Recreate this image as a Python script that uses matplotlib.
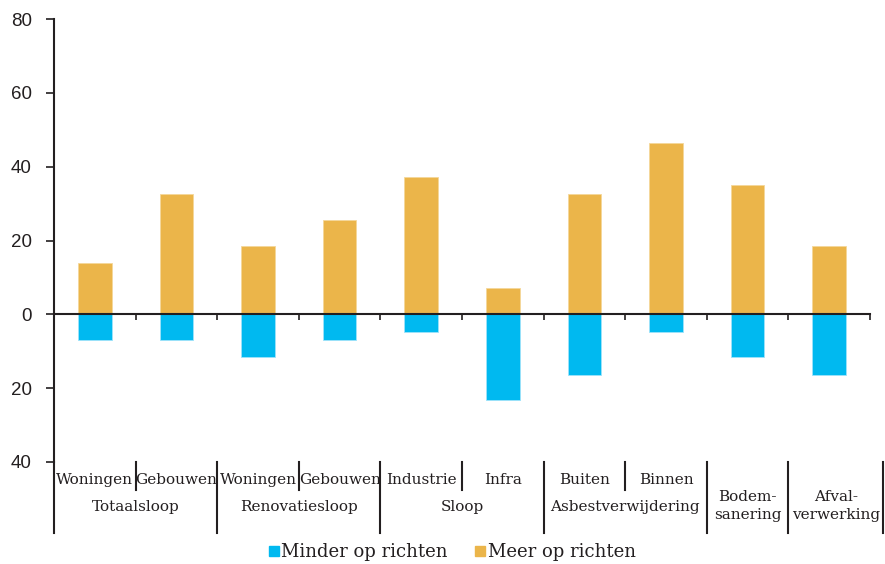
import numpy as np
import matplotlib
matplotlib.use("Agg")
import matplotlib.pyplot as plt
import matplotlib.transforms as mtransforms
from matplotlib.ticker import FuncFormatter
from matplotlib.lines import Line2D

# data (percentages)
sub_labels = ["Woningen", "Gebouwen", "Woningen", "Gebouwen", "Industrie",
              "Infra", "Buiten", "Binnen", "", ""]
groups = ["Totaalsloop", "Renovatiesloop", "Sloop", "Asbestverwijdering",
          "Bodem-\nsanering", "Afval-\nverwerking"]
group_spans = [(0, 2), (2, 4), (4, 6), (6, 8), (8, 9), (9, 10)]
meer = [14.0, 32.6, 18.6, 25.6, 37.2, 7.0, 32.6, 46.5, 34.9, 18.6]
minder = [-7.0, -7.0, -11.6, -7.0, -4.7, -23.3, -16.3, -4.7, -11.6, -16.3]

blue = "#00B9F0"
orange = "#EBB54A"
serif = "DejaVu Serif"

fig = plt.figure(figsize=(8.85, 5.64), dpi=100)
ax = fig.add_axes([54/885, 1-462/564, (870-54)/885, (462-19)/564])

x = np.arange(len(meer)) + 0.5
ax.bar(x, minder, width=0.41, color=blue, edgecolor="#9fe3fa", linewidth=0.6, zorder=2)
ax.bar(x, meer, width=0.41, color=orange, edgecolor="#f4d79a", linewidth=0.6, zorder=2)

ax.set_xlim(0, 10)
ax.set_ylim(-40, 80)
ax.set_yticks(np.arange(-40, 81, 20))
ax.yaxis.set_major_formatter(FuncFormatter(lambda v, p: f"{abs(v):.0f}"))
for lab in ax.get_yticklabels():
    lab.set_fontfamily("Liberation Sans")
ax.tick_params(axis="y", direction="out", length=6, width=1.2, pad=10,
               labelsize=13.5, colors="#231f20")
ax.set_xticks(np.arange(0, 11))
ax.set_xticklabels([])
ax.tick_params(axis="x", direction="out", length=4, width=1.2, colors="#231f20")

ax.spines["top"].set_visible(False)
ax.spines["right"].set_visible(False)
ax.spines["bottom"].set_position(("data", 0))
ax.spines["bottom"].set_linewidth(1.5)
ax.spines["bottom"].set_zorder(3)
ax.spines["left"].set_linewidth(1.5)
for s in ["bottom", "left"]:
    ax.spines[s].set_color("#231f20")

# category labels below the plot area
trans = mtransforms.blended_transform_factory(ax.transData, ax.transAxes)
h = 443.0
def fy(pix):
    return -(pix - 462) / h

for i, lab in enumerate(sub_labels):
    if lab:
        ax.text(i + 0.5, fy(480), lab, transform=trans, ha="center", va="center",
                fontsize=11, family=serif, color="#231f20")

for (a, b), g in zip(group_spans, groups):
    right = b + 0.16 if b == 10 else b
    yy = fy(507) if "\n" not in g else fy(506)
    ax.text((a + right) / 2, yy, g, transform=trans, ha="center", va="center",
            fontsize=11, family=serif, color="#231f20", linespacing=1.3)

# separators
for xs in [1, 3, 5, 7]:
    ax.add_line(Line2D([xs, xs], [0, fy(490)], transform=trans, color="#231f20",
                       lw=1.5, clip_on=False))
for xs in [0, 2, 4, 6, 8, 9, 10.16]:
    ax.add_line(Line2D([xs, xs], [0, fy(533)], transform=trans, color="#231f20",
                       lw=1.5, clip_on=False))

handles = [Line2D([], [], marker="s", ls="", color=blue, markersize=7),
           Line2D([], [], marker="s", ls="", color=orange, markersize=7)]
fig.legend(handles, ["Minder op richten", "Meer op richten"], loc="center",
           bbox_to_anchor=(0.51, 1-552/564), ncol=2, frameon=False,
           prop={"family": serif, "size": 13}, handletextpad=0.0,
           columnspacing=1.4, handlelength=0.8, labelcolor="#231f20")

fig.savefig("out.png", dpi=100)
